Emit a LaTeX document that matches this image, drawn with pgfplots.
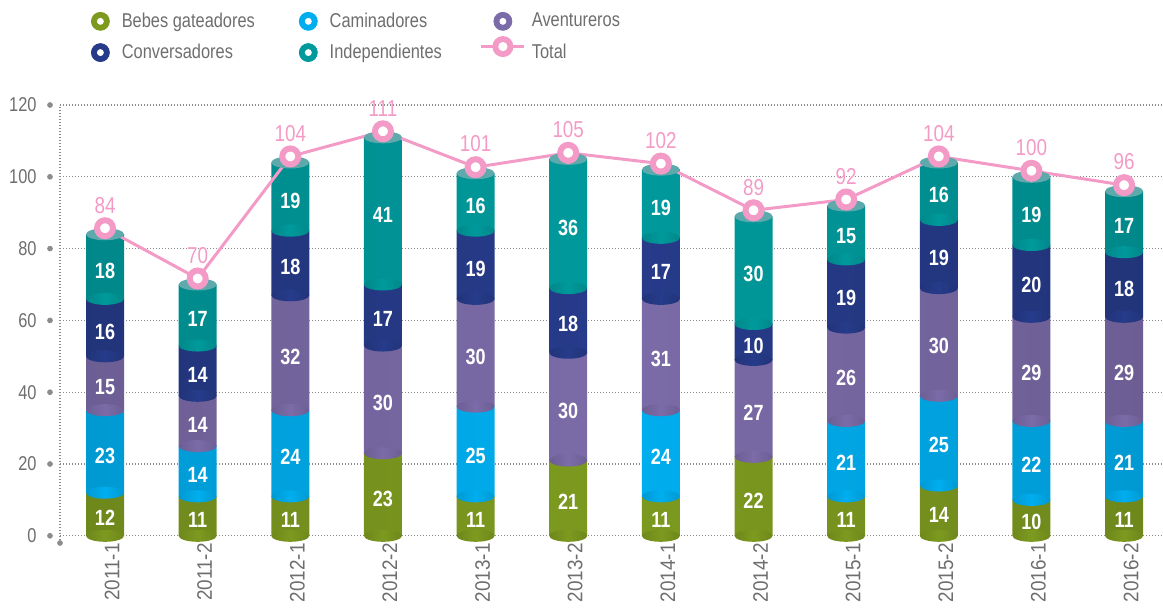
\documentclass[border=0pt]{standalone}
\usepackage{fontspec}
\setmainfont{Liberation Sans}[FakeStretch=0.82]
\newfontfamily\xfont{Liberation Sans}[FakeStretch=0.9]
\usepackage{pgfplots}
\pgfplotsset{compat=1.18}
\definecolor{cB}{HTML}{7D9A1F}
\definecolor{cC}{HTML}{00AEEF}
\definecolor{cA}{HTML}{7B6BA8}
\definecolor{cV}{HTML}{263B8A}
\definecolor{cI}{HTML}{009A9C}
\definecolor{cCap}{HTML}{5DA9AC}
\definecolor{cT}{HTML}{F39BC6}
\definecolor{tgray}{HTML}{6E6E6E}
\definecolor{ggray}{HTML}{8C8C8C}
\pgfdeclareplotmark{ellB}{\path[draw=none,left color=cB!88!black,right color=cB!88!black,middle color=cB] (0pt,0pt) ellipse [x radius=9.5pt,y radius=3pt];}
\pgfdeclareplotmark{ellC}{\path[draw=none,left color=cC!88!black,right color=cC!88!black,middle color=cC] (0pt,0pt) ellipse [x radius=9.5pt,y radius=3pt];}
\pgfdeclareplotmark{ellA}{\path[draw=none,left color=cA!88!black,right color=cA!88!black,middle color=cA] (0pt,0pt) ellipse [x radius=9.5pt,y radius=3pt];}
\pgfdeclareplotmark{ellV}{\path[draw=none,left color=cV!88!black,right color=cV!88!black,middle color=cV] (0pt,0pt) ellipse [x radius=9.5pt,y radius=3pt];}
\pgfdeclareplotmark{ellI}{\path[draw=none,left color=cI!88!black,right color=cI!88!black,middle color=cI] (0pt,0pt) ellipse [x radius=9.5pt,y radius=3pt];}
\pgfdeclareplotmark{cap}{\path[draw=none,fill=cCap] (0pt,0pt) ellipse [x radius=9.5pt,y radius=3pt];}
\begin{document}
\begin{tikzpicture}
\useasboundingbox (-30pt,-33pt) rectangle (551.5pt,271.5pt);
\pgfplotsset{
  base/.style={width=551.5pt,height=219pt,scale only axis,at={(0,0)},anchor=south west,
    xmin=-0.486,xmax=11.42,ymin=-2,ymax=120,clip=false,
    /pgf/number format/assume math mode=true},
  bars/.style={draw=none,left color=#1!88!black,right color=#1!88!black,middle color=#1},
  ell/.style={only marks,mark=#1,forget plot,mark options={draw opacity=0}},
  lbl/.style={draw=none,mark=none,nodes near coords,point meta=explicit symbolic,forget plot,
    every node near coord/.style={anchor=center,text=white,inner sep=0pt,yshift=-2pt,
      font=\bfseries\fontsize{11}{11}\selectfont}},
}
\begin{axis}[base,
  ybar stacked, bar width=19pt,
  axis line style={draw=none},
  major tick length=0pt,
  ytick={0,20,...,120},
  ymajorgrids,
  major grid style={ggray,line width=0.6pt,dash pattern=on 0.6pt off 0.9pt},
  xtick={0,...,11},
  xticklabels={2011-1,2011-2,2012-1,2012-2,2013-1,2013-2,2014-1,2014-2,2015-1,2015-2,2016-1,2016-2},
  xticklabel style={rotate=90,anchor=east,inner sep=0pt,yshift=-3.5pt,text=tgray,font=\xfont\fontsize{10.5}{10.5}\selectfont},
  yticklabel style={anchor=east,inner sep=0pt,xshift=-11.5pt,text=tgray,font=\fontsize{10}{10}\selectfont},
]
\addplot[bars=cB] coordinates {(0,12) (1,11) (2,11) (3,23) (4,11) (5,21) (6,11) (7,22) (8,11) (9,14) (10,10) (11,11)};
\addplot[bars=cC] coordinates {(0,23) (1,14) (2,24) (3,0) (4,25) (5,0) (6,24) (7,0) (8,21) (9,25) (10,22) (11,21)};
\addplot[bars=cA] coordinates {(0,15) (1,14) (2,32) (3,30) (4,30) (5,30) (6,31) (7,27) (8,26) (9,30) (10,29) (11,29)};
\addplot[bars=cV] coordinates {(0,16) (1,14) (2,18) (3,17) (4,19) (5,18) (6,17) (7,10) (8,19) (9,19) (10,20) (11,18)};
\addplot[bars=cI] coordinates {(0,18) (1,17) (2,19) (3,41) (4,16) (5,36) (6,19) (7,30) (8,15) (9,16) (10,19) (11,17)};
\draw[ggray,line width=0.6pt,dash pattern=on 0.6pt off 0.9pt] (axis description cs:0,0) -- (axis description cs:0,1);
\end{axis}
\begin{axis}[base, hide axis,
  legend columns=3, legend cell align=left,
  legend style={at={(0.0281,1.2201)},anchor=north west,draw=none,fill=none,inner sep=0pt,outer sep=0pt,
    text=tgray,font=\fontsize{10}{12}\selectfont,nodes={inner sep=2pt},row sep=1pt,
    /tikz/every even column/.append style={column sep=20pt},
    /tikz/every odd column/.append style={column sep=4pt}},
]
% tick dots
\addplot[only marks,mark=*,mark size=1.2pt,color=ggray,forget plot] coordinates {(-0.594,0) (-0.594,20) (-0.594,40) (-0.594,60) (-0.594,80) (-0.594,100) (-0.594,120) (-0.486,-2)};
% segment bottoms
\addplot[ell=ellB] coordinates {(0,0) (1,0) (2,0) (3,0) (4,0) (5,0) (6,0) (7,0) (8,0) (9,0) (10,0) (11,0)};
\addplot[ell=ellC] coordinates {(0,12) (1,11) (2,11) (4,11) (6,11) (8,11) (9,14) (10,10) (11,11)};
\addplot[ell=ellA] coordinates {(0,35) (1,25) (2,35) (3,23) (4,36) (5,21) (6,35) (7,22) (8,32) (9,39) (10,32) (11,32)};
\addplot[ell=ellV] coordinates {(0,50) (1,39) (2,67) (3,53) (4,66) (5,51) (6,66) (7,49) (8,58) (9,69) (10,61) (11,61)};
\addplot[ell=ellI] coordinates {(0,66) (1,53) (2,85) (3,70) (4,85) (5,69) (6,83) (7,59) (8,77) (9,88) (10,81) (11,79)};
\addplot[ell=cap] coordinates {(0,84) (1,70) (2,104) (3,111) (4,101) (5,105) (6,102) (7,89) (8,92) (9,104) (10,100) (11,96)};
% segment labels
\addplot[lbl] coordinates {(0,6) [12] (1,5.5) [11] (2,5.5) [11] (3,11.5) [23] (4,5.5) [11] (5,10.5) [21] (6,5.5) [11] (7,11) [22] (8,5.5) [11] (9,7) [14] (10,5) [10] (11,5.5) [11]};
\addplot[lbl] coordinates {(0,23.5) [23] (1,18) [14] (2,23) [24] (4,23.5) [25] (6,23) [24] (8,21.5) [21] (9,26.5) [25] (10,21) [22] (11,21.5) [21]};
\addplot[lbl] coordinates {(0,42.5) [15] (1,32) [14] (2,51) [32] (3,38) [30] (4,51) [30] (5,36) [30] (6,50.5) [31] (7,35.5) [27] (8,45) [26] (9,54) [30] (10,46.5) [29] (11,46.5) [29]};
\addplot[lbl] coordinates {(0,58) [16] (1,46) [14] (2,76) [18] (3,61.5) [17] (4,75.5) [19] (5,60) [18] (6,74.5) [17] (7,54) [10] (8,67.5) [19] (9,78.5) [19] (10,71) [20] (11,70) [18]};
\addplot[lbl] coordinates {(0,75) [18] (1,61.5) [17] (2,94.5) [19] (3,90.5) [41] (4,93) [16] (5,87) [36] (6,92.5) [19] (7,74) [30] (8,84.5) [15] (9,96) [16] (10,90.5) [19] (11,87.5) [17]};
% legend images
\addlegendimage{legend image code/.code={\fill[cB] (0pt,0pt) circle (4.5pt); \fill[white] (0pt,0pt) circle (1.5pt);}}
\addlegendentry{Bebes gateadores}
\addlegendimage{legend image code/.code={\fill[cC] (0pt,0pt) circle (4.5pt); \fill[white] (0pt,0pt) circle (1.5pt);}}
\addlegendentry{Caminadores}
\addlegendimage{legend image code/.code={\fill[cA] (0pt,0pt) circle (4.5pt); \fill[white] (0pt,0pt) circle (1.5pt);}}
\addlegendentry{Aventureros}
\addlegendimage{legend image code/.code={\fill[cV] (0pt,0pt) circle (4.5pt); \fill[white] (0pt,0pt) circle (1.5pt);}}
\addlegendentry{Conversadores}
\addlegendimage{legend image code/.code={\fill[cI] (0pt,0pt) circle (4.5pt); \fill[white] (0pt,0pt) circle (1.5pt);}}
\addlegendentry{Independientes}
% total
\addplot[cT,line width=1.5pt,yshift=3pt,mark=*,mark size=4pt,mark options={fill=white,draw=cT,line width=3pt,solid},
  nodes near coords,every node near coord/.style={text=cT,anchor=south,inner sep=0pt,yshift=6pt,font=\fontsize{11.5}{11.5}\selectfont},
  legend image code/.code={\path (-7.75pt,0pt) (7.75pt,0pt); \draw[cT,line width=1.5pt,overlay] (-10.75pt,0pt) -- (10.75pt,0pt); \fill[cT] (0pt,0pt) circle (4.5pt); \fill[white] (0pt,0pt) circle (1.5pt);}]
  coordinates {(0,84) (1,70) (2,104) (3,111) (4,101) (5,105) (6,102) (7,89) (8,92) (9,104) (10,100) (11,96)};
\addlegendentry{Total}
\end{axis}
\end{tikzpicture}
\end{document}
